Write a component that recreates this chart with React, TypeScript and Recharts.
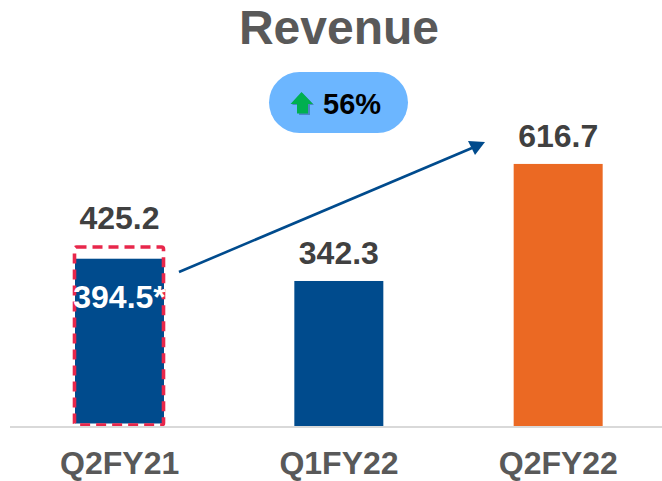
import { BarChart, Bar, Cell, LabelList, XAxis, YAxis } from "recharts";

const quarters = ["Q2FY21", "Q1FY22", "Q2FY22"];
const revenue = [394.5, 342.3, 616.7];
const reported = [425.2, null, null];
const barLabels = ["394.5*", "342.3", "616.7"];
const barColors = ["#004B8D", "#004B8D", "#EB6923"];

const rows = quarters.map((quarter, i) => ({
  quarter,
  revenue: revenue[i],
  reported: reported[i],
  label: barLabels[i],
}));

const FONT = "'Liberation Sans', Arial, sans-serif";

// first bar keeps its figure inside, the others sit on top
function RevenueLabel(props: any) {
  const { x, y, width, value, index } = props;
  const inside = index === 0;
  return (
    <text
      x={x + width / 2}
      y={inside ? y + 49 : y - 17}
      textAnchor="middle"
      fontFamily={FONT}
      fontWeight={700}
      fontSize={32}
      fill={inside ? "#ffffff" : "#404040"}
    >
      {value}
    </text>
  );
}

function ReportedLabel(props: any) {
  const { x, y, width, value } = props;
  if (value == null) return null;
  return (
    <text
      x={x + width / 2}
      y={y - 17}
      textAnchor="middle"
      fontFamily={FONT}
      fontWeight={700}
      fontSize={32}
      fill="#404040"
    >
      {value}
    </text>
  );
}

// the bar under the dashed box stops short of the axis
function RevenueBar(props: any) {
  const { x, y, width, height, fill, index } = props;
  return (
    <rect
      x={x}
      y={y}
      width={width}
      height={index === 0 ? height - 3.5 : height}
      fill={fill}
    />
  );
}

function DashedBox(props: any) {
  const { x, y, width, height } = props;
  if (!height) return null;
  return (
    <rect
      x={x - 0.5}
      y={y + 1.4}
      width={width}
      height={height - 3.4}
      rx={2}
      fill="none"
      stroke="#E8274B"
      strokeWidth={3.6}
      strokeDasharray="10 6"
    />
  );
}

export default function App() {
  return (
    <div
      style={{
        position: "fixed",
        left: 0,
        top: 0,
        width: 662,
        height: 481,
        overflow: "hidden",
        background: "#fff",
      }}
    >
      <BarChart
        width={680}
        height={481}
        data={rows}
        margin={{ top: 0, right: 12, bottom: 0, left: 10 }}
        barSize={89}
        barGap={-89}
      >
        <XAxis
          dataKey="quarter"
          height={54}
          tickLine={false}
          axisLine={{ stroke: "#D9D9D9", strokeWidth: 2 }}
          tickMargin={18}
          tick={{ fontFamily: FONT, fontWeight: 700, fontSize: 32, fill: "#595959" }}
        />
        <YAxis hide domain={[0, 1001]} />
        <Bar dataKey="revenue" shape={<RevenueBar />} isAnimationActive={false}>
          {rows.map((r, i) => (
            <Cell key={r.quarter} fill={barColors[i]} />
          ))}
          <LabelList dataKey="label" content={<RevenueLabel />} />
        </Bar>
        <Bar dataKey="reported" shape={<DashedBox />} isAnimationActive={false}>
          <LabelList dataKey="reported" content={<ReportedLabel />} />
        </Bar>
      </BarChart>

      <svg
        width={662}
        height={481}
        style={{ position: "absolute", left: 0, top: 0, pointerEvents: "none" }}
      >
        <text
          x={339}
          y={44}
          textAnchor="middle"
          fontFamily={FONT}
          fontWeight={700}
          fontSize={48}
          fill="#595959"
        >
          Revenue
        </text>
        <rect x={269} y={72} width={139} height={61} rx={30.5} fill="#6CB6FF" />
        <path
          d="M302.5 93 L314 105 L310 105 L310 115 L299 115 L299 105 L292 105 Z"
          fill="#4A86C8"
        />
        <path
          d="M301.5 92 L313 104 L308 104 L308 113.5 L297 113.5 L297 104 L290.5 104 Z"
          fill="#00B050"
        />
        <text
          x={323}
          y={114}
          fontFamily={FONT}
          fontWeight={700}
          fontSize={29}
          fill="#000000"
        >
          56%
        </text>
        <line x1={179} y1={272} x2={472} y2={148} stroke="#004B8D" strokeWidth={2.6} />
        <path d="M485 142 L468 141 L475 155 Z" fill="#004B8D" />
      </svg>
    </div>
  );
}
